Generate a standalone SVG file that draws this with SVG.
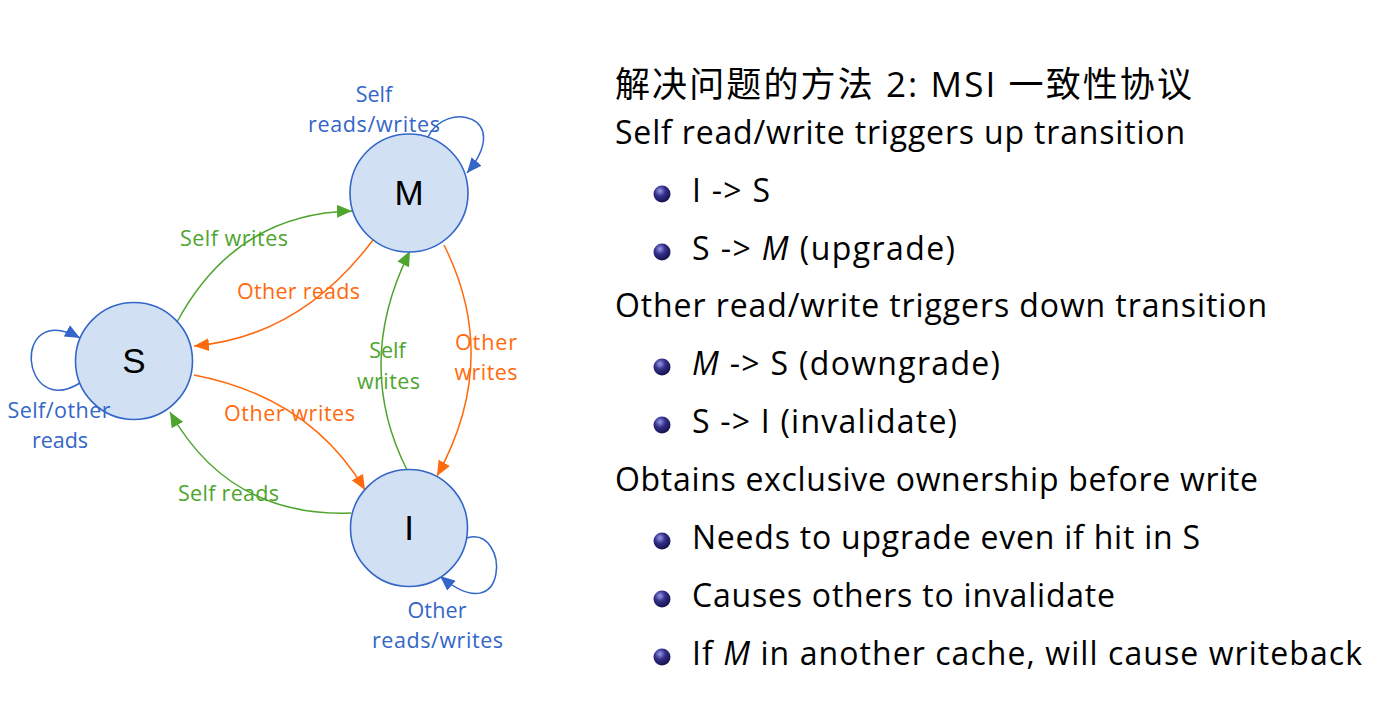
<svg xmlns="http://www.w3.org/2000/svg" width="1379" height="703" viewBox="0 0 1379 703">
<style>
.node{fill:#D2E0F4;stroke:#3366C8;stroke-width:1.6}
.nlabel{font-family:"Liberation Sans",Arial,sans-serif;font-size:35px;fill:#000;text-anchor:middle}
.lbl{font-family:"Open Sans","Liberation Sans",sans-serif;font-size:21.5px;text-anchor:middle}
.blue{fill:#3366C8}
.green{fill:#4EA52E}
.orange{fill:#FF6A0E}
.eg{fill:none;stroke:#4EA52E;stroke-width:1.5;marker-end:url(#ag)}
.eo{fill:none;stroke:#FF6A0E;stroke-width:1.5;marker-end:url(#ao)}
.eb{fill:none;stroke:#3366C8;stroke-width:1.5;marker-end:url(#ab)}
.body{font-family:"Open Sans","Liberation Sans","Noto Sans CJK SC",sans-serif;font-size:32px;fill:#000}
.title{font-family:"Open Sans","Noto Sans CJK SC",sans-serif;font-size:35px;fill:#000}
</style>
<defs>
<marker id="ag" viewBox="0 0 15 13" refX="15" refY="6.5" markerWidth="15" markerHeight="13" markerUnits="userSpaceOnUse" orient="auto"><path d="M0,0 L15,6.5 L0,13 z" fill="#4EA52E"/></marker>
<marker id="ao" viewBox="0 0 15 13" refX="15" refY="6.5" markerWidth="15" markerHeight="13" markerUnits="userSpaceOnUse" orient="auto"><path d="M0,0 L15,6.5 L0,13 z" fill="#FF6A0E"/></marker>
<marker id="ab" viewBox="0 0 15 13" refX="15" refY="6.5" markerWidth="15" markerHeight="13" markerUnits="userSpaceOnUse" orient="auto"><path d="M0,0 L15,6.5 L0,13 z" fill="#3366C8"/></marker>
<radialGradient id="ball" cx="0.38" cy="0.32" r="0.7">
<stop offset="0" stop-color="#9A9AE6"/>
<stop offset="0.45" stop-color="#34308C"/>
<stop offset="1" stop-color="#14104A"/>
</radialGradient>
</defs>

<g id="connectors">
<path class="eg" d="M177,322 Q235.5,213.5 352,211"/>
<path class="eo" d="M373,240 Q300,337 194,346"/>
<path class="eo" d="M194,375 Q310.5,397.5 365,490"/>
<path class="eg" d="M351,513 Q229.5,517.5 170,412"/>
<path class="eg" d="M407,470 Q353.5,363.5 410,251"/>
<path class="eo" d="M444,245 Q501.5,359.5 437,476"/>
<path class="eb" d="M428,137 C445,100 515,115 467,173"/>
<path class="eb" d="M80,383 C20,420 10,300 80,338"/>
<path class="eb" d="M467,538 C510,525 510,635 440,576"/>
</g>

<g id="node-M">
<circle class="node" cx="409" cy="193" r="59"/>
<text class="nlabel" x="409" y="205">M</text>
</g>
<g id="node-S">
<circle class="node" cx="134" cy="361" r="58.5"/>
<text class="nlabel" x="134" y="373">S</text>
</g>
<g id="node-I">
<circle class="node" cx="409" cy="528" r="58.5"/>
<text class="nlabel" x="409" y="540">I</text>
</g>

<g id="edge-labels">
<text class="lbl blue" x="374" y="102">Self</text>
<text class="lbl blue" x="374" y="132" textLength="132">reads/writes</text>
<text class="lbl green" x="234" y="246" textLength="108">Self writes</text>
<text class="lbl orange" x="298.5" y="299" textLength="123">Other reads</text>
<text class="lbl green" x="387.5" y="358">Self</text>
<text class="lbl green" x="388.5" y="389" textLength="63">writes</text>
<text class="lbl orange" x="486" y="350" textLength="62">Other</text>
<text class="lbl orange" x="486" y="380" textLength="63">writes</text>
<text class="lbl blue" x="59" y="418" textLength="103">Self/other</text>
<text class="lbl blue" x="60" y="448" textLength="56">reads</text>
<text class="lbl orange" x="289.5" y="421" textLength="131">Other writes</text>
<text class="lbl green" x="228.5" y="501" textLength="101">Self reads</text>
<text class="lbl blue" x="437" y="618" textLength="59">Other</text>
<text class="lbl blue" x="437.5" y="648" textLength="131">reads/writes</text>
</g>

<g id="text-panel">
<text class="title" x="615" y="97" textLength="577">解决问题的方法 2: MSI 一致性协议</text>
<text class="body" x="615" y="144" textLength="570">Self read/write triggers up transition</text>
<circle cx="662" cy="194" r="8.5" fill="url(#ball)"/>
<text class="body" x="692" y="202" textLength="78">I -&gt; S</text>
<circle cx="662" cy="252" r="8.5" fill="url(#ball)"/>
<text class="body" x="692" y="260" textLength="263">S -&gt; <tspan font-style="italic">M</tspan> (upgrade)</text>
<text class="body" x="615" y="317" textLength="652">Other read/write triggers down transition</text>
<circle cx="662" cy="367" r="8.5" fill="url(#ball)"/>
<text class="body" x="692" y="375" textLength="308"><tspan font-style="italic">M</tspan> -&gt; S (downgrade)</text>
<circle cx="662" cy="425" r="8.5" fill="url(#ball)"/>
<text class="body" x="692" y="433" textLength="265">S -&gt; I (invalidate)</text>
<text class="body" x="615" y="491" textLength="643">Obtains exclusive ownership before write</text>
<circle cx="662" cy="541" r="8.5" fill="url(#ball)"/>
<text class="body" x="692" y="549" textLength="508">Needs to upgrade even if hit in S</text>
<circle cx="662" cy="599" r="8.5" fill="url(#ball)"/>
<text class="body" x="692" y="607" textLength="423">Causes others to invalidate</text>
<circle cx="662" cy="657" r="8.5" fill="url(#ball)"/>
<text class="body" x="692" y="665" textLength="670">If <tspan font-style="italic">M</tspan> in another cache, will cause writeback</text>
</g>
</svg>
